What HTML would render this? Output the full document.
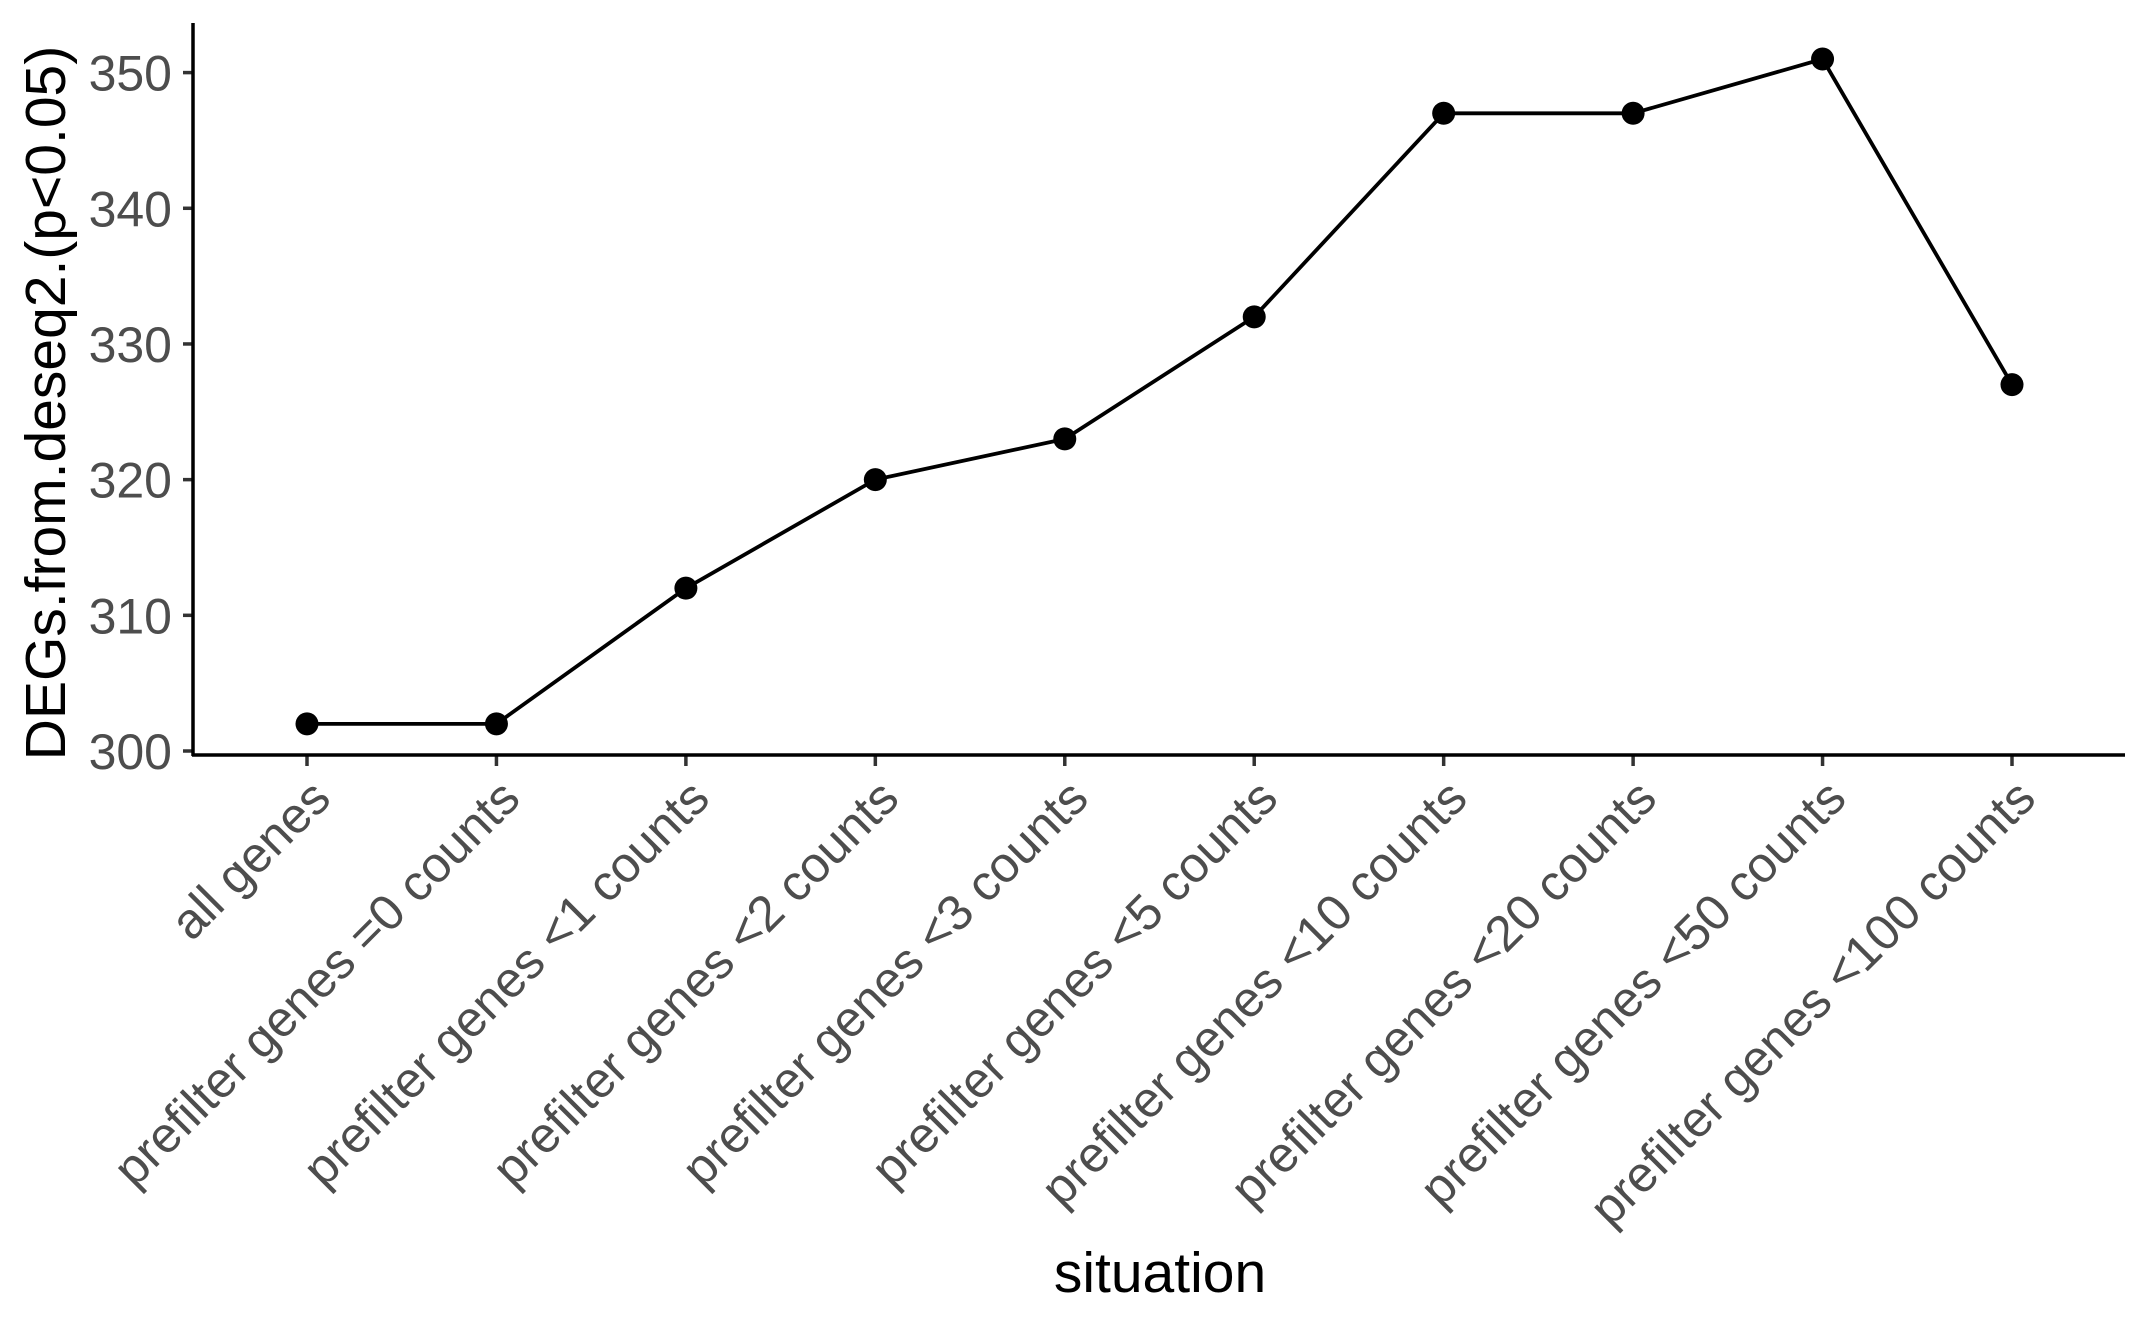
<!DOCTYPE html>
<html><head><meta charset="utf-8"><style>
html,body{margin:0;padding:0;background:#fff}
svg{display:block}
text{font-family:"Liberation Sans",Arial,sans-serif}
</style></head><body>
<svg id="chart" width="2149" height="1328" viewBox="0 0 2149 1328">
<rect width="2149" height="1328" fill="#fff"/>
<g id="ticksY"></g>
<g id="ticksX"></g>
<g id="series"></g>
<line x1="193" y1="23" x2="193" y2="756" stroke="#000" stroke-width="3.5"/>
<line x1="192" y1="755" x2="2125" y2="755" stroke="#000" stroke-width="3.5"/>
<text x="0" y="0" transform="translate(65,403) rotate(-90)" text-anchor="middle" font-size="57" fill="#000">DEGs.from.deseq2.(p&lt;0.05)</text>
<text x="1160" y="1292" text-anchor="middle" font-size="57" fill="#000">situation</text>
</svg>
<script>
const categories = ["all genes","prefilter genes =0 counts","prefilter genes <1 counts","prefilter genes <2 counts","prefilter genes <3 counts","prefilter genes <5 counts","prefilter genes <10 counts","prefilter genes <20 counts","prefilter genes <50 counts","prefilter genes <100 counts"];
const values = [302,302,312,320,323,332,347,347,351,327];
const yTicks = [300,310,320,330,340,350];

const NS = "http://www.w3.org/2000/svg";
function xScale(i){ return 307 + i * (2012 - 307) / 9; }
function yScale(v){ return 751 - (v - 300) * (751 - 72.6) / 50; }
function mk(tag, attrs, parent){
  const e = document.createElementNS(NS, tag);
  for (const k in attrs) e.setAttribute(k, attrs[k]);
  parent.appendChild(e);
  return e;
}
const gy = document.getElementById('ticksY');
yTicks.forEach(t => {
  const y = yScale(t);
  const l = mk('line', {x1:183, x2:193, y1:y, y2:y, stroke:'#333', 'stroke-width':3.5}, gy);
  
  
  const tx = mk('text', {x:172, y:y+18, 'text-anchor':'end', 'font-size':50, fill:'#4d4d4d'}, gy);
  tx.textContent = t;
  
  
});
const gx = document.getElementById('ticksX');
categories.forEach((c, i) => {
  const x = xScale(i);
  const l = mk('line', {x1:x, x2:x, y1:755, y2:766, stroke:'#333', 'stroke-width':3.5}, gx);
  
  
  const tx = mk('text', {x:0, y:0, 'text-anchor':'end', 'font-size':50, fill:'#4d4d4d', transform:'translate(' + (x + 26) + ',801) rotate(-45)'}, gx);
  tx.textContent = c;
  
  
});
const gs = document.getElementById('series');
const pts = values.map((v, i) => xScale(i) + ',' + yScale(v)).join(' ');
const pl = mk('polyline', {points:pts, fill:'none', stroke:'#000', 'stroke-width':3.8}, gs);


values.forEach((v, i) => {
  const c = mk('circle', {cx:xScale(i), cy:yScale(v), r:11.5, fill:'#000'}, gs);
  
  
});
</script>
</body></html>
